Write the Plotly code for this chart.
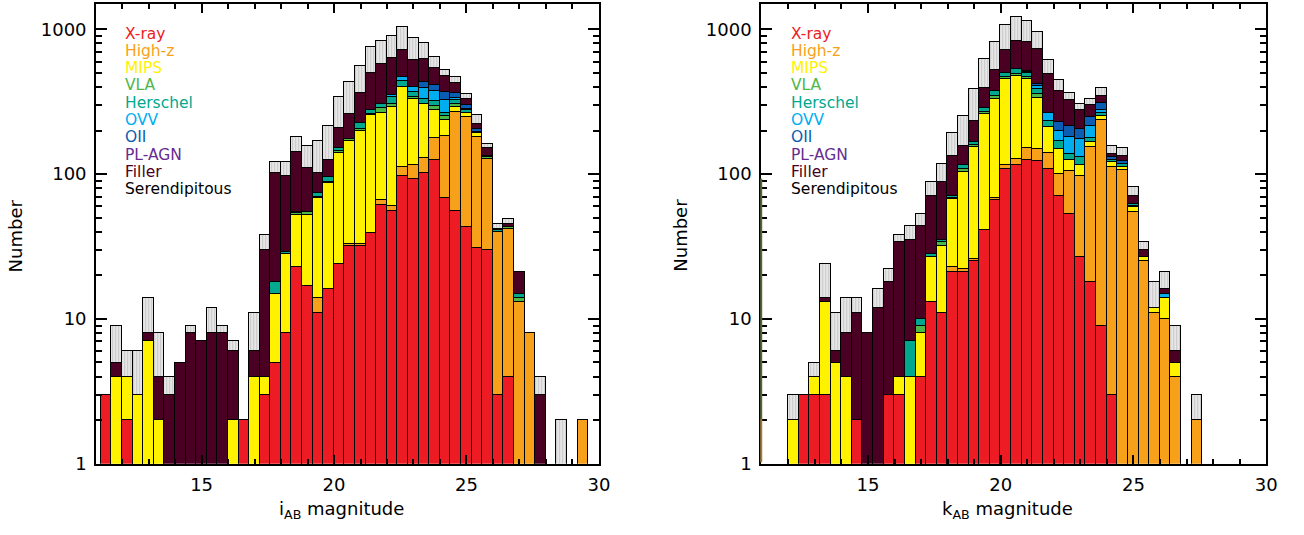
import plotly.graph_objects as go

# ---------------- data ----------------
bin_lo = 11.2
bin_w = 0.4
n_bins = 46
centers = [round(bin_lo + bin_w * (k + 0.5), 2) for k in range(n_bins)]

categories = ["X-ray", "High-z", "MIPS", "VLA", "Herschel", "OVV", "OII", "PL-AGN", "Filler", "Serendipitous"]

# Left panel: i_AB magnitude
xray_i     = [3,0,2,0,0,0,0,0,0,0, 0,0,0,2,0,3,5,8,23,17, 11,16,24,32,32,39,61,56,97,93, 102,126,68,56,43,31,30,3,4,0, 0,0,0,0,0,0]
highz_i    = [0,0,0,0,0,0,0,0,0,0, 0,0,0,0,0,0,0,0,0,0, 3,0,0,1,1,0,5,4,15,22, 27,52,115,214,207,149,98,37,38,13, 8,0,0,0,0,2]
mips_i     = [0,4,2,3,7,2,0,0,0,0, 0,0,2,0,4,1,10,20,29,35, 54,71,117,138,165,217,200,232,287,218, 179,102,54,22,13,13,0,0,0,0, 0,0,0,0,0,0]
vla_i      = [0,0,0,0,0,0,0,0,0,0, 0,0,0,0,0,0,0,0,2,3, 2,2,4,4,8,6,20,12,0,8, 0,18,16,12,0,0,3,0,1,1, 0,0,0,0,0,0]
herschel_i = [0,0,0,0,0,0,0,0,0,0, 0,0,0,0,0,0,3,1,1,0, 4,6,8,0,19,18,22,36,40,28, 25,23,13,20,13,1,3,1,0,1, 0,0,0,0,0,0]
ovv_i      = [0,0,0,0,0,0,0,0,0,0, 0,0,0,0,0,0,0,0,0,0, 0,0,0,0,0,0,0,10,29,34, 60,54,58,10,6,2,0,0,0,0, 0,0,0,0,0,0]
oii_i      = [0,0,0,0,0,0,0,0,0,0, 0,0,0,0,0,0,0,0,0,0, 0,0,0,0,0,0,0,0,0,0, 39,39,45,30,20,10,0,0,0,0, 0,0,0,0,0,0]
plagn_i    = [0] * 46
filler_i   = [0,1,0,0,1,2,3,5,8,7, 8,8,4,0,2,26,84,68,88,56, 28,31,55,85,139,217,266,287,250,211, 189,124,109,66,27,18,18,1,2,6, 0,3,0,0,0,0]
seren_i    = [0,4,2,3,6,4,1,0,1,0, 4,1,1,0,5,8,20,25,39,46, 69,90,133,172,195,255,252,269,326,257, 184,109,47,37,30,32,10,3,4,0, 0,1,0,2,0,0]

# Right panel: k_AB magnitude
xray_k     = [0,0,0,3,3,3,0,0,2,0, 0,3,3,0,4,13,11,21,21,25, 41,66,109,115,126,124,108,71,53,27, 18,9,3,0,0,0,0,0,0,0, 0,0,0,0,0,0]
highz_k    = [0,0,0,0,0,0,0,0,0,0, 0,0,0,0,0,0,0,2,1,1, 0,2,6,12,27,25,32,30,52,71, 136,228,110,107,55,25,11,10,4,0, 2,0,0,0,0,0]
mips_k     = [0,0,2,0,1,10,5,4,0,0, 0,0,1,4,4,14,21,44,81,129, 218,265,339,347,302,187,71,48,21,18, 13,17,8,6,4,2,1,4,1,0, 0,0,0,0,0,0]
vla_k      = [0,0,0,0,0,0,0,0,0,0, 0,0,0,0,1,0,2,2,6,5, 12,15,15,20,15,24,0,0,0,0, 0,0,0,0,1,0,0,0,0,0, 0,0,0,0,0,0]
herschel_k = [0,0,0,0,0,0,0,0,0,0, 0,0,0,3,1,1,1,2,6,7, 17,25,35,43,28,29,23,20,11,16, 11,9,4,4,2,0,0,0,0,0, 0,0,0,0,0,0]
ovv_k      = [0,0,0,0,0,0,0,0,0,0, 0,0,0,0,0,0,0,0,0,0, 0,0,0,0,12,20,32,31,43,44, 38,14,0,0,0,0,0,1,0,0, 0,0,0,0,0,0]
oii_k      = [0,0,0,0,0,0,0,0,0,0, 0,0,0,0,0,0,0,0,0,0, 0,0,0,0,7,12,0,29,36,29, 34,34,7,7,0,0,0,0,0,0, 0,0,0,0,0,0]
plagn_k    = [0] * 46
filler_k   = [0,0,0,0,0,1,1,4,9,8, 12,15,30,28,34,43,54,63,42,67, 105,152,214,302,296,316,225,146,108,72, 53,36,7,10,9,3,0,1,1,0, 0,0,0,0,0,0]
seren_k    = [0,0,1,0,1,10,5,6,3,0, 4,4,4,9,9,18,29,58,96,155, 237,293,353,380,333,228,123,73,40,31, 30,46,18,17,10,4,6,5,3,0, 1,0,0,0,0,0]

y_ticks = [1, 10, 100, 1000]
x_ticks = [15, 20, 25, 30]

# ---------------- styles ----------------
colors = ["#ED1C24", "#F7A11A", "#FFF200", "#4CB848", "#00A88F",
          "#00AEEF", "#0A5DB3", "#662D91", "#4A0022", "#E6E6E6"]
label_colors = colors[:9] + ["#000000"]
FONT = "DejaVu Sans, Verdana, sans-serif"

left_data = [xray_i, highz_i, mips_i, vla_i, herschel_i, ovv_i, oii_i, plagn_i, filler_i, seren_i]
right_data = [xray_k, highz_k, mips_k, vla_k, herschel_k, ovv_k, oii_k, plagn_k, filler_k, seren_k]

fig = go.Figure()


def add_panel(data, xa, ya):
    for name, vals, col in zip(categories, data, colors):
        marker = dict(color=col, line=dict(color="black", width=1))
        if name == "Serendipitous":
            marker["pattern"] = dict(shape="|", fgcolor="#A8A8A8", bgcolor=col,
                                     size=3, solidity=0.35)
        fig.add_trace(go.Bar(
            x=centers, y=[v if v > 0 else None for v in vals], width=bin_w,
            name=name, marker=marker, xaxis=xa, yaxis=ya, showlegend=False,
            hoverinfo="skip"))


add_panel(left_data, "x", "y")
add_panel(right_data, "x2", "y2")

W, H = 1304, 535
ydom = [1 - 472.5 / H, 1 - 4 / H]

common = dict(showline=True, linecolor="black", linewidth=2, mirror="ticks",
              ticks="inside", tickcolor="black", tickwidth=1.5, showgrid=False,
              zeroline=False, tickfont=dict(family=FONT, size=18, color="black"))

xcommon = dict(common, tickmode="array", tickvals=x_ticks, ticklen=9,
               ticklabelstandoff=4,
               minor=dict(ticks="inside", ticklen=5, dtick=1, tick0=0,
                          tickcolor="black", tickwidth=1.5, showgrid=False))
minor_y = [m * d for d in (1, 10, 100, 1000) for m in range(2, 10)]
ycommon = dict(common, type="log", range=[0, 3.176], tickmode="array",
               tickvals=y_ticks, ticktext=[str(v) for v in y_ticks], ticklen=11,
               ticklabelstandoff=4,
               minor=dict(ticks="inside", ticklen=6, tickmode="array", tickvals=minor_y,
                          tickcolor="black", tickwidth=1.5, showgrid=False))

fig.update_layout(
    width=W, height=H,
    margin=dict(l=0, r=0, t=0, b=0),
    paper_bgcolor="white", plot_bgcolor="white",
    barmode="stack", bargap=0,
    font=dict(family=FONT, color="black"),
    xaxis=dict(xcommon, domain=[97 / W, 604 / W], range=[11.02, 30.0], anchor="y"),
    yaxis=dict(ycommon, domain=ydom, anchor="x"),
    xaxis2=dict(xcommon, domain=[767.7 / W, 1277 / W], range=[10.98, 30.0], anchor="y2"),
    yaxis2=dict(ycommon, domain=ydom, anchor="x2"),
)

annotations = []
# legends (coloured text)
for x0 in (124, 796):
    for i, (name, col) in enumerate(zip(categories, label_colors)):
        annotations.append(dict(
            x=x0 / W, y=1 - (34.3 + 17.6 * i) / H, xref="paper", yref="paper",
            text=name, showarrow=False, xanchor="left", yanchor="middle",
            font=dict(family=FONT, size=15.5, color=col)))
# axis titles
for xc, txt in ((344, "i<sub>AB</sub> magnitude"), (1016, "k<sub>AB</sub> magnitude")):
    annotations.append(dict(x=xc / W, y=1 - 520 / H, xref="paper", yref="paper",
                            text=txt, showarrow=False, xanchor="center", yanchor="middle",
                            font=dict(family=FONT, size=18, color="black")))
for xc in (16, 686):
    annotations.append(dict(x=xc / W, y=1 - 240 / H, xref="paper", yref="paper",
                            text="Number", showarrow=False, textangle=-90,
                            xanchor="center", yanchor="middle",
                            font=dict(family=FONT, size=18, color="black")))
fig.update_layout(annotations=annotations)

# coloured outline artefact along the left edge of the right panel
fig.add_shape(type="line", xref="paper", yref="paper", x0=767.7 / W, x1=767.7 / W,
              y0=1 - 427 / H, y1=1 - 182 / H, line=dict(color="#55693A", width=2))
fig.add_shape(type="line", xref="paper", yref="paper", x0=767.7 / W, x1=767.7 / W,
              y0=1 - 471 / H, y1=1 - 427 / H, line=dict(color="#A27B3C", width=2))

# remove the default body margin so the figure sits at the page origin
page_fix = (
    "var s=document.createElement('style');"
    "s.textContent='html,body{margin:0;padding:0;overflow:hidden;}';"
    "document.head.appendChild(s);"
)

fig.write_html("out.html", config={"displayModeBar": False}, post_script=page_fix)
